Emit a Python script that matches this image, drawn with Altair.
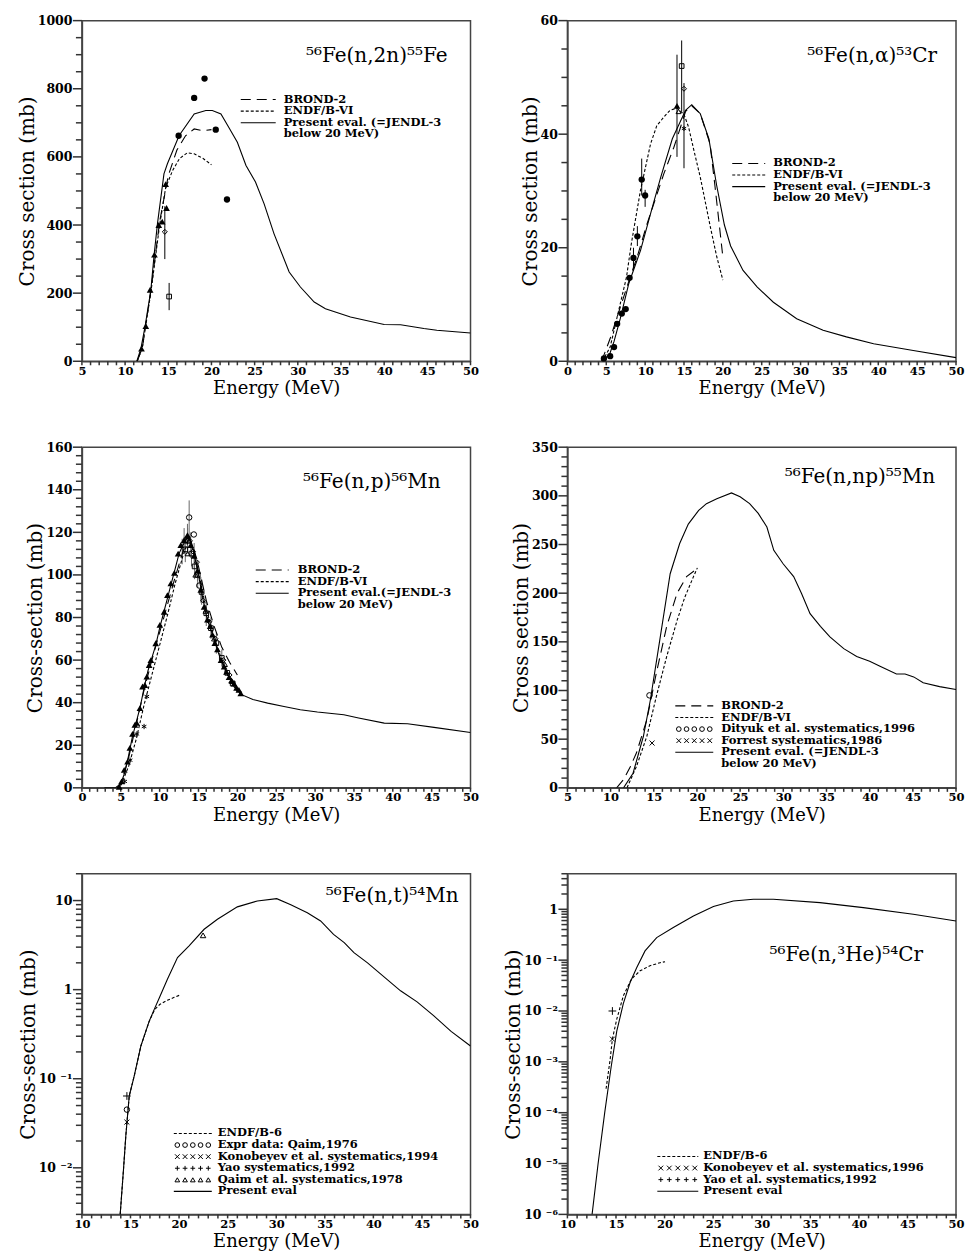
import math
import altair as alt
import pandas as pd

W, H = 389, 341
SERIF = "DejaVu Serif"
INK = "#000000"
FRAME = "#444444"
TICK = "#333333"
GREY = "#666666"
LONG = [10, 6]
SHORT = [3, 2]

STAR = "M0,-1L0,1M-0.87,-0.5L0.87,0.5M-0.87,0.5L0.87,-0.5"
XMARK = "M-1,-1L1,1M-1,1L1,-1"
PLUS = "M-1,0L1,0M0,-1L0,1"

# ---------------- Panel 1: 56Fe(n,2n)55Fe ----------------
n2n_present_E = [11.36, 11.83, 12.3, 12.98, 13.37, 13.75, 14.5, 14.9, 16.26, 18.0, 19.35, 20.1, 21.1, 22.0,
                 23.0, 24.0, 25.1, 26.1, 27.25, 29.0, 30.3, 31.9, 33.2, 36.1, 40.0, 41.9, 44.6, 46.1, 50.0]
n2n_present_xs = [0, 37, 100, 208, 315, 404, 550, 580, 663, 726, 736, 736, 726, 687,
                  643, 575, 526, 462, 374, 262, 218, 174, 154, 130, 108, 107, 96, 91, 83]
n2n_brond_E = [11.4, 12.0, 13.0, 14.0, 15.0, 16.0, 17.0, 18.0, 19.0, 20.0]
n2n_brond_xs = [0, 40, 210, 410, 545, 620, 662, 682, 677, 680]
n2n_endf_E = [11.4, 12.0, 13.0, 14.0, 14.7, 15.5, 16.3, 17.2, 18.0, 19.0, 20.0]
n2n_endf_xs = [0, 40, 205, 400, 510, 560, 595, 612, 609, 596, 577]
n2n_tri_E = [11.9, 12.4, 12.9, 13.4, 13.9, 14.3, 14.7, 14.8]
n2n_tri_xs = [37, 103, 210, 313, 400, 410, 520, 450]
n2n_circ_E = [16.2, 18.0, 19.2, 20.5, 21.8]
n2n_circ_xs = [662, 773, 830, 680, 475]
n2n_diam_E, n2n_diam_xs, n2n_diam_lo, n2n_diam_hi = [14.6], [380], [300], [455]
n2n_sq_E, n2n_sq_xs, n2n_sq_lo, n2n_sq_hi = [15.1], [190], [150], [230]

# ---------------- Panel 2: 56Fe(n,alpha)53Cr ----------------
na_present_E = [4.6, 5.5, 6.0, 6.8, 7.9, 9.4, 10.7, 12.0, 13.5, 15.2, 16.0, 17.1, 18.2, 19.2, 20.2, 21.0,
                22.6, 24.4, 26.5, 29.5, 32.9, 35.9, 39.4, 44.5, 50.0]
na_present_xs = [0, 1.5, 3.5, 7.5, 13.7, 19.5, 26.0, 32.4, 39.2, 44.2, 45.2, 43.6, 39.2, 31.0, 24.0, 20.3,
                 16.0, 13.1, 10.4, 7.5, 5.45, 4.3, 3.1, 1.9, 0.65]
na_brond_E = [4.4, 5.5, 6.8, 8.0, 9.0, 10.2, 12.4, 13.7, 14.5, 15.2, 16.0, 17.1, 18.35, 19.0, 20.0]
na_brond_xs = [0, 4, 9.5, 14.5, 18.5, 24, 33, 37.7, 41, 44, 45, 43.6, 38.3, 30.7, 18.4]
na_endf_E = [4.5, 5.5, 6.4, 7.6, 8.2, 9.4, 10.7, 11.5, 12.4, 13.2, 14.1, 15.0, 15.6, 16.3, 17.1, 18.4, 19.2, 20.0]
na_endf_xs = [0, 2.5, 7.8, 14.8, 20.5, 30.1, 38.3, 41.5, 43.0, 44.2, 44.6, 43.5, 41.2, 37.0, 32.4, 23.6, 18.5, 14.3]
na_circ_E = [4.7, 5.5, 6.0, 6.4, 7.0, 7.5, 8.0, 8.5, 9.0, 9.56, 10.0]
na_circ_xs = [0.5, 0.9, 2.5, 6.6, 8.4, 9.2, 14.7, 18.2, 22.0, 32.0, 29.2]
na_bar_E = [8.5, 9.0, 9.56, 10.0, 14.1, 14.7, 15.0]
na_bar_lo = [16.2, 20.3, 29.2, 27.2, 36.0, 44.0, 34.0]
na_bar_hi = [20.0, 23.8, 35.7, 30.2, 54.0, 56.5, 49.0]
na_tri_E, na_tri_xs = [14.1], [45.0]
na_otri_E, na_otri_xs = [14.3], [44.0]
na_sq_E, na_sq_xs = [14.7], [52.0]
na_diam_E, na_diam_xs = [15.0], [48.0]
na_star_E, na_star_xs = [15.0], [41.0]

# ---------------- Panel 3: 56Fe(n,p)56Mn ----------------
np_present_E = [2.9, 4.3, 5.0, 5.5, 6.0, 6.5, 7.0, 7.5, 8.0, 8.5, 9.0, 9.5, 10.0, 10.5, 11.0, 11.5, 12.0, 12.5,
                13.0, 13.5, 13.8, 14.2, 14.6, 15.0, 15.5, 16.0, 16.5, 17.0, 17.5, 18.0, 18.5, 19.0, 19.5, 20.0,
                20.4, 22.0, 23.9, 26.0, 28.1, 30.3, 33.7, 35.6, 38.9, 41.9, 45.3, 50.0]
np_present_xs = [0, 0, 2, 7, 15, 24, 31, 38, 47, 55, 61, 67, 75, 82, 89, 96, 103, 110,
                 114, 117, 118, 114, 107, 100, 90, 81, 75, 70, 64, 59, 55, 51.5, 49, 46,
                 44, 41.5, 39.8, 38.2, 36.7, 35.6, 34.3, 32.8, 30.4, 30.1, 28.4, 26.0]
np_brond_E = [4.5, 5, 6, 7, 8, 9, 10, 11, 12, 13, 13.8, 14.5, 15, 16, 17, 18, 19, 20]
np_brond_xs = [0, 1.5, 14, 30, 46, 60, 73, 86, 99, 111, 117, 111, 104, 88, 76, 66, 59, 53]
np_endf_E = [4.5, 5, 6, 7, 8, 9, 10, 11, 12, 13, 13.8, 14.5, 15, 16, 17, 18, 19, 20]
np_endf_xs = [0, 1, 10, 23, 39, 53, 67, 81, 96, 109, 117, 110, 101, 84, 71, 60, 51, 45]
np_tri_E = [4.8, 5.1, 5.44, 5.87, 6.17, 6.51, 6.81, 7.05, 7.46, 7.8, 8.1, 8.35, 8.65, 8.87, 9.5, 10.03,
            10.58, 11.0, 11.44, 11.9, 12.38, 12.72, 13.15, 13.58, 14.0, 14.44, 14.87, 15.3, 15.72, 16.15,
            16.5, 16.8, 17.1, 17.44, 17.9, 18.3, 18.6, 18.93, 19.25, 19.58, 19.9, 20.2, 20.44]
np_tri_xs = [0.5, 3, 8.4, 12.3, 18.8, 25.3, 29.6, 30.5, 37.4, 47.6, 48.3, 52.2, 57.7, 60, 67.9, 76.5,
             82.7, 90.5, 96, 101, 110, 114, 116.4, 118.7, 114, 109, 102, 93, 85, 79,
             76, 72, 68, 65, 60, 57, 54.5, 52, 50.5, 49, 47, 46, 44.4]
np_sq_E = [13.3, 13.6, 14.1, 14.5, 14.9, 15.4, 16.0, 16.6, 17.3, 18.0, 18.7, 19.4]
np_sq_xs = [112, 116, 110, 104, 100, 92, 82, 75, 68, 61, 54, 49]
np_diam_E = [13.9, 14.3, 14.8, 15.6, 16.4, 17.2, 18.2, 19.0]
np_diam_xs = [116, 111, 106, 88, 78, 70, 60, 53]
np_otri_E = [13.6, 14.6, 15.9, 17.0, 18.4, 19.3]
np_otri_xs = [110, 100, 83, 70, 58, 50]
np_circ_E = [13.8, 14.4, 15.1]
np_circ_xs = [127, 119, 95]
np_star_E = [5.5, 6.2, 7.07, 8.0, 8.35]
np_star_xs = [3, 13, 25.3, 28.8, 42.9]
np_bar_E = [13.8, 13.3, 13.6, 14.1, 14.5, 14.9, 15.4, 16.0, 16.6, 17.3, 18.0, 12.9, 13.15, 13.58, 14.0,
            14.44, 14.87, 15.3]
np_bar_lo = [116, 106, 110, 104, 98, 94, 86, 76, 70, 63, 57, 105, 110, 112, 108, 103, 97, 87]
np_bar_hi = [135, 118, 122, 116, 110, 106, 98, 88, 80, 73, 65, 117, 122, 124, 120, 115, 107, 99]

# ---------------- Panel 4: 56Fe(n,np)55Mn ----------------
nnp_present_E = [11.5, 12.6, 13.8, 14.6, 15.7, 16.9, 18.0, 19.0, 20.2, 21.1, 22.3, 24.0, 25.0, 26.1, 27.1,
                 28.1, 28.9, 30.0, 31.2, 32.1, 33.1, 34.3, 35.4, 37.0, 38.5, 40.0, 41.2, 43.1, 44.1, 45.1,
                 46.2, 48.1, 50.0]
nnp_present_xs = [0, 15, 53, 90, 152, 220, 251, 271, 285, 292, 297, 303, 299, 292, 282,
                  268, 244, 230, 217, 200, 179, 166, 155, 143, 135, 130, 125, 117, 117, 114,
                  108, 104, 101]
nnp_brond_E = [10.7, 11.5, 12.3, 13.0, 14.2, 15.3, 16.5, 17.7, 18.8, 20.0]
nnp_brond_xs = [0, 8.5, 22, 36, 70, 118, 166, 200, 217, 225]
nnp_endf_E = [11.9, 13.0, 14.2, 15.3, 16.5, 17.7, 18.6, 19.6, 20.05]
nnp_endf_xs = [0, 22, 53, 94, 135, 172, 196, 217, 226]
nnp_dityuk_E, nnp_dityuk_xs = [14.5], [95]
nnp_forrest_E, nnp_forrest_xs = [14.8], [46]

# ---------------- Panel 5: 56Fe(n,t)54Mn ----------------
nt_present_E = [13.94, 14.28, 14.52, 14.87, 15.38, 16.07, 16.92, 17.5, 17.95, 18.8, 19.84, 21.03, 22.58, 23.95,
                26.0, 28.06, 30.05, 31.5, 33.2, 34.57, 35.9, 37.0, 38.0, 39.4, 42.8, 44.5, 46.2, 48.0, 50.0]
nt_present_xs = [0.003, 0.0096, 0.023, 0.064, 0.107, 0.233, 0.44, 0.62, 0.80, 1.31, 2.29, 3.1, 4.76, 6.17,
                 8.5, 9.9, 10.5, 9.0, 7.3, 5.9, 4.17, 3.37, 2.6, 2.0, 0.97, 0.73, 0.51, 0.34, 0.233]
nt_endf_E = [13.94, 14.28, 14.52, 14.87, 15.38, 16.07, 16.92, 17.5, 18.0, 18.8, 19.5, 20.1]
nt_endf_xs = [0.003, 0.0096, 0.023, 0.064, 0.107, 0.233, 0.44, 0.60, 0.68, 0.76, 0.82, 0.87]
nt_qaim_E, nt_qaim_xs = [14.63], [0.045]
nt_kono_E, nt_kono_xs = [14.63], [0.0326]
nt_yao_E, nt_yao_xs = [14.63], [0.064]
nt_qaim78_E, nt_qaim78_xs = [22.47], [4.07]

# ---------------- Panel 6: 56Fe(n,3He)54Cr ----------------
nhe_present_E = [12.54, 13.16, 13.84, 14.5, 15.08, 15.76, 16.45, 17.14, 17.99, 19.19, 20.9, 22.97, 25.03,
                 27.08, 29.14, 31.2, 36.0, 40.46, 45.6, 50.0]
nhe_present_xs = [1.0e-6, 1.0e-5, 1.0e-4, 7.9e-4, 4.0e-3, 1.41e-2, 3.63e-2, 7.16e-2, 0.152, 0.278, 0.437,
                  0.74, 1.13, 1.46, 1.57, 1.57, 1.35, 1.08, 0.80, 0.59]
nhe_endf_E = [13.98, 14.4, 14.63, 15.08, 15.76, 16.6, 17.48, 18.5, 19.54, 20.05]
nhe_endf_xs = [2.95e-4, 1.12e-3, 2.82e-3, 6.9e-3, 0.020, 0.0427, 0.0617, 0.0776, 0.089, 0.0933]
nhe_kono_E, nhe_kono_xs = [14.63], [0.0028]
nhe_yao_E, nhe_yao_xs = [14.63], [0.0100]

ONE = pd.DataFrame({"k": [0]})
LEG_FS = 11.5
LEG_STEP = 11.6

AX = dict(labelFont=SERIF, labelFontWeight="bold", labelColor=INK,
          ticks=False, tickSize=0,
          domainColor=FRAME, domainWidth=1.5,
          titleFont=SERIF, titleFontWeight="normal", titleColor=INK,
          labelOverlap=False, labelFlush=False, grid=False)

LOG_EXP = "round(log(datum.value)/LN10)"
LOG_MAJOR = f"abs(log(datum.value)/LN10 - {LOG_EXP}) < 0.001"
LOG_LABEL = (f"{LOG_MAJOR} ? ({LOG_EXP} == 0 ? '1' : {LOG_EXP} == 1 ? '10' : "
             f"'10 ' + ['', '⁻¹', '⁻²', '⁻³', '⁻⁴', '⁻⁵', '⁻⁶'][-{LOG_EXP}]) : ''")


def is_decade(v):
    lg = math.log10(v)
    return abs(lg - round(lg)) < 1e-6


def make_axes(xdom, ydom, ytitle, ystep=None, ymajor=None, ylog=False, yvals=None):
    xvals = list(range(int(xdom[0]), int(xdom[1]) + 1))
    xaxis = alt.Axis(title="Energy (MeV)", values=xvals,
                     labelExpr="datum.value % 5 == 0 ? '' + datum.value : ''",
                     labelFontSize=11.5, labelPadding=4, titlePadding=3, titleFontSize=18, **AX)
    if ylog:
        ylab = LOG_LABEL
        yscale = alt.Scale(type="log", domain=ydom, nice=False)
        ymaj = [v for v in yvals if is_decade(v)]
        ymin = [v for v in yvals if not is_decade(v)]
    else:
        n = int(round((ydom[1] - ydom[0]) / ystep))
        yvals = [ydom[0] + i * ystep for i in range(n + 1)]
        ylab = f"datum.value % {ymajor} == 0 ? '' + datum.value : ''"
        yscale = alt.Scale(domain=ydom, nice=False, zero=False)
        ymaj = [v for v in yvals if v % ymajor == 0]
        ymin = [v for v in yvals if v % ymajor != 0]
    yaxis = alt.Axis(title=ytitle, values=yvals, labelExpr=ylab,
                     labelFontSize=12.5, labelPadding=10, titlePadding=0, titleFontSize=20, **AX)
    xscale = alt.Scale(domain=xdom, nice=False, zero=False)

    def X(f="E"):
        return alt.X(f"{f}:Q", scale=xscale, axis=xaxis)

    def Y(f="xs"):
        return alt.Y(f"{f}:Q", scale=yscale, axis=yaxis)

    ticks = [
        alt.Chart(pd.DataFrame({"E": xvals})).mark_rule(color=TICK, strokeWidth=1.5).encode(
            x=X(), y=alt.value(H), y2=alt.value(H + 4)),
        alt.Chart(pd.DataFrame({"xs": ymin})).mark_rule(color=TICK, strokeWidth=1.5).encode(
            y=Y(), x=alt.value(0), x2=alt.value(-6)),
        alt.Chart(pd.DataFrame({"xs": ymaj})).mark_rule(color=TICK, strokeWidth=1.5).encode(
            y=Y(), x=alt.value(0), x2=alt.value(-9)),
    ]
    return X, Y, ticks


def line(E, v, X, Y, dash=None, width=1.1):
    kw = dict(color=INK, strokeWidth=width, clip=True)
    if dash:
        kw["strokeDash"] = dash
    return alt.Chart(pd.DataFrame({"E": E, "xs": v})).mark_line(**kw).encode(x=X(), y=Y())


def pts(E, v, X, Y, shape, filled, size):
    return alt.Chart(pd.DataFrame({"E": E, "xs": v})).mark_point(
        shape=shape, filled=filled, size=size, color=INK, opacity=1, strokeWidth=1
    ).encode(x=X(), y=Y())


def bars(E, lo, hi, X, Y, color=INK):
    return alt.Chart(pd.DataFrame({"E": E, "lo": lo, "hi": hi})).mark_rule(
        color=color, strokeWidth=1).encode(x=X(), y=Y("lo"), y2=alt.Y2("hi:Q"))


def label(x, y, s, size=LEG_FS, weight="bold", align="left"):
    return alt.Chart(ONE).mark_text(text=s, font=SERIF, fontSize=size, fontWeight=weight,
                                    align=align, baseline="middle", color=INK).encode(
        x=alt.value(x), y=alt.value(y))


def sample_line(x0, x1, y, dash=None):
    kw = dict(color=INK, strokeWidth=1.1)
    if dash:
        kw["strokeDash"] = dash
    return alt.Chart(ONE).mark_rule(**kw).encode(x=alt.value(x0), x2=alt.value(x1), y=alt.value(y))


def sample_marks(x0, x1, y, shape, filled=False, size=22):
    step = (x1 - x0 - 7) / 4.0
    return [alt.Chart(ONE).mark_point(shape=shape, filled=filled, size=size, color=INK, opacity=1,
                                      strokeWidth=1).encode(x=alt.value(x0 + 3.5 + i * step), y=alt.value(y))
            for i in range(5)]


def legend(x0, x1, tx, y_first, rows):
    out = []
    for i, (kind, style, text) in enumerate(rows):
        y = y_first + i * LEG_STEP
        if kind == "line":
            out.append(sample_line(x0, x1, y, style))
        elif kind == "mark":
            out.extend(sample_marks(x0, x1, y, style[0], style[1]))
        out.append(label(tx, y, text))
    return out


def title_text(xr, y, s):
    return label(xr, y, s, size=20, weight="normal", align="right")


# ---- panel 1
X, Y, T = make_axes([5, 50], [0, 1000], "Cross section (mb)", ystep=50, ymajor=200)
p1 = alt.layer(
    *T,
    line(n2n_present_E, n2n_present_xs, X, Y),
    line(n2n_brond_E, n2n_brond_xs, X, Y, LONG),
    line(n2n_endf_E, n2n_endf_xs, X, Y, SHORT),
    bars(n2n_diam_E, n2n_diam_lo, n2n_diam_hi, X, Y),
    bars(n2n_sq_E, n2n_sq_lo, n2n_sq_hi, X, Y),
    pts(n2n_tri_E, n2n_tri_xs, X, Y, "triangle-up", True, 45),
    pts(n2n_circ_E, n2n_circ_xs, X, Y, "circle", True, 40),
    pts(n2n_diam_E, n2n_diam_xs, X, Y, "diamond", False, 25),
    pts(n2n_sq_E, n2n_sq_xs, X, Y, "square", False, 22),
    title_text(366, 35, "⁵⁶Fe(n,2n)⁵⁵Fe"),
    *legend(159, 194, 202, 79, [("line", LONG, "BROND-2"),
                                ("line", SHORT, "ENDF/B-VI"),
                                ("line", None, "Present eval. (=JENDL-3"),
                                (None, None, "below 20 MeV)")]),
).properties(width=W, height=H)

# ---- panel 2
X, Y, T = make_axes([0, 50], [0, 60], "Cross section (mb)", ystep=5, ymajor=20)
p2 = alt.layer(
    *T,
    line(na_present_E, na_present_xs, X, Y),
    line(na_brond_E, na_brond_xs, X, Y, LONG),
    line(na_endf_E, na_endf_xs, X, Y, SHORT),
    bars(na_bar_E, na_bar_lo, na_bar_hi, X, Y),
    pts(na_circ_E, na_circ_xs, X, Y, "circle", True, 40),
    pts(na_tri_E, na_tri_xs, X, Y, "triangle-up", True, 45),
    pts(na_otri_E, na_otri_xs, X, Y, "triangle-up", False, 25),
    pts(na_sq_E, na_sq_xs, X, Y, "square", False, 22),
    pts(na_diam_E, na_diam_xs, X, Y, "diamond", False, 25),
    pts(na_star_E, na_star_xs, X, Y, STAR, False, 25),
    title_text(370, 35, "⁵⁶Fe(n,α)⁵³Cr"),
    *legend(165, 198, 206, 143, [("line", LONG, "BROND-2"),
                                 ("line", SHORT, "ENDF/B-VI"),
                                 ("line", None, "Present eval. (=JENDL-3"),
                                 (None, None, "below 20 MeV)")]),
).properties(width=W, height=H)

# ---- panel 3
X, Y, T = make_axes([0, 50], [0, 160], "Cross-section (mb)", ystep=4, ymajor=20)
p3 = alt.layer(
    *T,
    bars(np_bar_E, np_bar_lo, np_bar_hi, X, Y, GREY),
    line(np_present_E, np_present_xs, X, Y),
    line(np_brond_E, np_brond_xs, X, Y, LONG),
    line(np_endf_E, np_endf_xs, X, Y, SHORT),
    pts(np_tri_E, np_tri_xs, X, Y, "triangle-up", True, 45),
    pts(np_sq_E, np_sq_xs, X, Y, "square", False, 22),
    pts(np_diam_E, np_diam_xs, X, Y, "diamond", False, 25),
    pts(np_otri_E, np_otri_xs, X, Y, "triangle-up", False, 25),
    pts(np_circ_E, np_circ_xs, X, Y, "circle", False, 30),
    pts(np_star_E, np_star_xs, X, Y, STAR, False, 28),
    title_text(359, 35, "⁵⁶Fe(n,p)⁵⁶Mn"),
    *legend(174, 207, 216, 123, [("line", LONG, "BROND-2"),
                                 ("line", SHORT, "ENDF/B-VI"),
                                 ("line", None, "Present eval.(=JENDL-3"),
                                 (None, None, "below 20 MeV)")]),
).properties(width=W, height=H)

# ---- panel 4
X, Y, T = make_axes([5, 50], [0, 350], "Cross section (mb)", ystep=10, ymajor=50)
p4 = alt.layer(
    *T,
    line(nnp_present_E, nnp_present_xs, X, Y),
    line(nnp_brond_E, nnp_brond_xs, X, Y, LONG),
    line(nnp_endf_E, nnp_endf_xs, X, Y, SHORT),
    pts(nnp_dityuk_E, nnp_dityuk_xs, X, Y, "circle", False, 30),
    pts(nnp_forrest_E, nnp_forrest_xs, X, Y, XMARK, False, 25),
    title_text(368, 30, "⁵⁶Fe(n,np)⁵⁵Mn"),
    *legend(108, 146, 154, 259, [("line", LONG, "BROND-2"),
                                 ("line", SHORT, "ENDF/B-VI"),
                                 ("mark", ("circle", False), "Dityuk et al. systematics,1996"),
                                 ("mark", (XMARK, False), "Forrest systematics,1986"),
                                 ("line", None, "Present eval. (=JENDL-3"),
                                 (None, None, "below 20 MeV)")]),
).properties(width=W, height=H)

# ---- panel 5
nt_vals = [m * 10.0 ** e for e in range(-3, 2) for m in range(1, 10) if 0.003 <= m * 10.0 ** e <= 20]
X, Y, T = make_axes([10, 50], [0.003, 20], "Cross-section (mb)", ylog=True, yvals=nt_vals)
p5 = alt.layer(
    *T,
    line(nt_present_E, nt_present_xs, X, Y),
    line(nt_endf_E, nt_endf_xs, X, Y, SHORT),
    pts(nt_qaim_E, nt_qaim_xs, X, Y, "circle", False, 30),
    pts(nt_kono_E, nt_kono_xs, X, Y, XMARK, False, 25),
    pts(nt_yao_E, nt_yao_xs, X, Y, PLUS, False, 60),
    pts(nt_qaim78_E, nt_qaim78_xs, X, Y, "triangle-up", False, 30),
    title_text(377, 22, "⁵⁶Fe(n,t)⁵⁴Mn"),
    *legend(92, 130, 136, 260, [("line", SHORT, "ENDF/B-6"),
                                ("mark", ("circle", False), "Expr data: Qaim,1976"),
                                ("mark", (XMARK, False), "Konobeyev et al. systematics,1994"),
                                ("mark", (PLUS, False), "Yao systematics,1992"),
                                ("mark", ("triangle-up", False), "Qaim et al. systematics,1978"),
                                ("line", None, "Present eval")]),
).properties(width=W, height=H)

# ---- panel 6
nhe_vals = [m * 10.0 ** e for e in range(-6, 1) for m in range(1, 10) if 1e-6 <= m * 10.0 ** e <= 5]
X, Y, T = make_axes([10, 50], [1e-6, 5], "Cross-section (mb)", ylog=True, yvals=nhe_vals)
p6 = alt.layer(
    *T,
    line(nhe_present_E, nhe_present_xs, X, Y),
    line(nhe_endf_E, nhe_endf_xs, X, Y, SHORT),
    pts(nhe_kono_E, nhe_kono_xs, X, Y, XMARK, False, 25),
    pts(nhe_yao_E, nhe_yao_xs, X, Y, PLUS, False, 60),
    title_text(356, 81, "⁵⁶Fe(n,³He)⁵⁴Cr"),
    *legend(90, 131, 136, 283, [("line", SHORT, "ENDF/B-6"),
                                ("mark", (XMARK, False), "Konobeyev et al. systematics,1996"),
                                ("mark", (PLUS, False), "Yao et al. systematics,1992"),
                                ("line", None, "Present eval")]),
).properties(width=W, height=H)

chart = alt.concat(p1, p2, p3, p4, p5, p6, columns=2,
                   spacing={"row": 86, "column": 97}, bounds="flush").properties(
    padding={"left": 16, "top": 13, "right": 0, "bottom": 0}
).configure_view(stroke=FRAME, strokeWidth=1.5)

chart.save("out.html", embed_options={"renderer": "svg", "actions": False})
